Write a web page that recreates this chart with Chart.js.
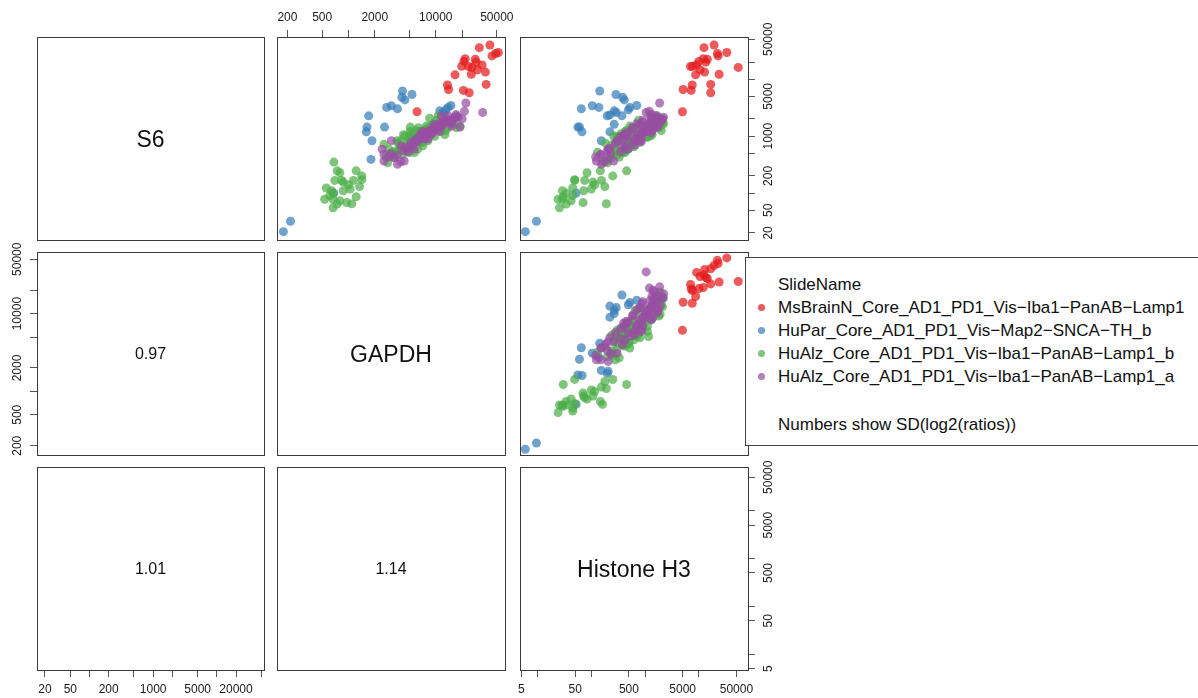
<!DOCTYPE html>
<html>
<head>
<meta charset="utf-8">
<title>pairs plot</title>
<script src="https://cdn.jsdelivr.net/npm/chart.js@4.4.1/dist/chart.umd.min.js"></script>
<style>
  html, body { margin: 0; padding: 0; background: #fff; }
  body { position: relative; width: 1198px; height: 698px; overflow: hidden;
         font-family: 'Liberation Sans', Arial, sans-serif; color: #111; }
  canvas { position: absolute; }
  .ptext { position: absolute; transform: translate(-50%, -50%); line-height: 1; white-space: nowrap; }
  #legend { position: absolute; left: 745px; top: 257px; width: 470px; height: 187px;
            border: 1px solid #444; background: #fff; z-index: 5; font-size: 17px; }
  #legend .row { position: absolute; left: 32px; white-space: nowrap; line-height: 23px; height: 23px; }
  #legend .dot { position: absolute; left: 12px; width: 7px; height: 7px; border-radius: 50%; }
</style>
</head>
<body>
<div id="legend"></div>
<script>
// ---- data ----
var varNames = ['S6', 'GAPDH', 'Histone H3'];
var sdValues = ['0.97', '1.01', '1.14'];   // lower panels: (GAPDH,S6), (H3,S6), (H3,GAPDH)

var groupNames = [
  'MsBrainN_Core_AD1_PD1_Vis\u2212Iba1\u2212PanAB\u2212Lamp1',
  'HuPar_Core_AD1_PD1_Vis\u2212Map2\u2212SNCA\u2212TH_b',
  'HuAlz_Core_AD1_PD1_Vis\u2212Iba1\u2212PanAB\u2212Lamp1_b',
  'HuAlz_Core_AD1_PD1_Vis\u2212Iba1\u2212PanAB\u2212Lamp1_a'
];
var groupColors = ['rgba(228,26,28,0.72)', 'rgba(55,126,184,0.72)', 'rgba(77,175,74,0.72)', 'rgba(152,78,163,0.72)'];
var drawOrder = [3, 2, 1, 0];

var redGAPDH = [41600, 31500, 48400, 52000, 44000, 21700, 28300, 21000, 33900, 19800, 23700, 25900, 37000, 16600, 25500, 13600, 14000, 20700, 24100, 37700, 6100, 30000, 29000];
var redS6    = [39800, 35700, 28200, 29400, 25600, 22900, 22300, 20500, 17800, 16800, 16700, 16100, 13300, 11900, 12200, 7900, 6600, 6350, 5780, 8100, 2680, 14600, 19900];
var redH3    = [19150, 12450, 22100, 33100, 22750, 12100, 14350, 10000, 9080, 7640, 7000, 54000, 12800, 8700, 23800, 7520, 5090, 7190, 16600, 16600, 4950, 10500, 13500];

var blueGAPDH = [180, 217, 680, 1600, 1630, 2590, 1703, 1810, 1860, 2740, 3100, 3640, 4160, 4090, 4430, 5340, 11100, 13870, 14900, 17350, 12000, 13000, 12500, 10000, 9000];
var blueS6    = [21, 32, 100, 1190, 1440, 1440, 2270, 390, 830, 3190, 3420, 3020, 6190, 4820, 4320, 5380, 2780, 3190, 3450, 2270, 2600, 2890, 2360, 1610, 1190];
var blueH3    = [5.9, 9.5, 52, 67, 56, 60, 197, 205, 153, 138, 104, 65, 143, 381, 410, 286, 266, 520, 698, 370, 290, 487, 221, 266, 221];

var greenGAPDH = [680, 1225, 743, 798, 698, 834, 872, 1140, 1425, 1340, 558, 638, 667, 872, 1043, 1225, 534, 667, 798, 953, 1090, 667, 743, 611, 1000, 1420,
                  5100, 6320, 8490, 10620, 11400, 4270, 5200, 6210, 7430, 8880, 11600, 13870, 3970, 4750, 5680, 6800, 8120, 2910, 3480, 4550,
                  5680, 7100, 2810, 3330, 4160, 4970, 6210, 9700, 12700, 17300, 18950, 15200, 3040, 2550, 7500, 9000, 5500, 4000, 3600, 5080,
                  4400, 5900, 7800, 9300, 10200, 12200, 3700, 4900, 6600, 8400, 5300, 6900, 3200, 4100, 7300, 8600, 10900, 13000, 5600, 4600,
                  6100, 9800, 11900, 3800, 5000, 7000, 8200, 2700, 6500, 15800];
var greenS6    = [350, 246, 246, 227, 167, 167, 156, 167, 172, 130, 123, 110, 99, 110, 118, 86, 78, 78, 73, 68, 65, 55, 64, 90, 140, 200,
                  1440, 1400, 2060, 2270, 1790, 1060, 1060, 925, 1060, 1220, 1220, 1400, 830, 725, 830, 775, 830, 590, 550, 550,
                  515, 675, 340, 420, 480, 515, 590, 995, 1060, 1400, 1500, 1840, 480, 720, 1290, 1560, 1150, 665, 830, 1200,
                  1000, 1250, 1500, 1650, 1900, 1700, 760, 900, 1100, 1150, 700, 950, 520, 610, 1250, 1000, 1350, 1250, 980, 650,
                  800, 1500, 1600, 560, 980, 780, 1400, 430, 1200, 1650];
var greenH3    = [161, 453, 147, 83, 49, 75, 107, 154, 49, 178, 45, 29, 34, 72, 100, 30, 24, 29, 42, 70, 190, 25.5, 34, 45, 115, 250,
                  700, 900, 1300, 1700, 1500, 500, 620, 640, 820, 1000, 1200, 1450, 380, 420, 560, 600, 760, 260, 300, 350,
                  420, 540, 200, 240, 310, 380, 480, 1100, 1350, 1800, 1900, 1600, 230, 280, 950, 1150, 750, 450, 520, 1156,
                  260, 1100, 520, 1800, 750, 2100, 180, 800, 360, 1300, 240, 1100, 130, 500, 450, 1250, 650, 2000, 330, 620,
                  300, 1900, 800, 420, 300, 800, 580, 330, 420, 2200];

var purpleGAPDH = [22100, 21300, 34400, 18950, 15200, 12700, 11600, 13870, 16600, 8880, 10620, 7770, 8120, 6800, 5200, 4550, 3970, 3100, 2430, 2550,
                   2550, 3040, 3330, 3640, 3970, 4350, 5680, 7100, 9700, 12130, 14500, 10000, 6000, 9000, 11000, 15000, 20000, 17000, 4800, 7000,
                   7400, 8300, 9400, 10400, 11200, 12500, 6400, 5900, 13500, 15600, 6900, 8900, 4300, 5400, 7800, 3600, 10800, 9600, 12000, 18000,
                   4900, 6200, 8000, 11500, 2900, 14200, 16300, 7600, 9200, 5700];
var purpleS6    = [3820, 2720, 2610, 1440, 1500, 1900, 2270, 2270, 2120, 1220, 1310, 1140, 890, 1060, 775, 630, 675, 830, 590, 480,
                   365, 490, 420, 320, 355, 365, 590, 925, 1610, 1720, 1840, 1470, 855, 1100, 1200, 1660, 2020, 2390, 530, 1200,
                   1150, 1250, 1400, 1500, 1650, 1750, 980, 870, 1900, 2000, 1050, 1300, 560, 700, 1100, 460, 1550, 1350, 1600, 2150,
                   610, 800, 1000, 1450, 430, 1750, 1950, 900, 1150, 760];
var purpleH3    = [1860, 1200, 1045, 1500, 1400, 1300, 1250, 1600, 1700, 1000, 1100, 850, 780, 700, 550, 420, 380, 300, 205, 150,
                   124, 230, 200, 154, 180, 260, 480, 700, 1150, 1400, 1500, 1000, 640, 900, 1050, 1250, 1400, 1350, 350, 900,
                   450, 1300, 580, 1700, 700, 1900, 350, 850, 900, 2100, 400, 1400, 200, 650, 480, 150, 1700, 600, 800, 2200,
                   220, 850, 450, 1700, 120, 900, 2100, 400, 1300, 280];

var s6Range = [15, 55000];
var gapdhRange = [152, 62000];
var h3Range = [4.7, 82000];

var s6Ticks = [20, 50, 100, 200, 500, 1000, 2000, 5000, 10000, 20000, 50000];
var s6BottomLabels = [20, 50, 200, 1000, 5000, 20000];
var s6RightLabels = [20, 50, 200, 1000, 5000, 50000];
var gapdhTicks = [200, 500, 1000, 2000, 5000, 10000, 20000, 50000];
var gapdhLabels = [200, 500, 2000, 10000, 50000];
var h3Ticks = [5, 10, 50, 100, 500, 1000, 5000, 10000, 50000];
var h3Labels = [5, 50, 500, 5000, 50000];

// ---- layout ----
var colLeft = [37, 277, 520], colWidth = [227, 228, 228];
var rowTop = [37, 252, 467], rowHeight = [203, 203, 203];
var M = 40;
var fontFamily = "'Liberation Sans', Arial, sans-serif";
var tickFont = {family: fontFamily, size: 12};

var values = [
  [redS6, blueS6, greenS6, purpleS6],
  [redGAPDH, blueGAPDH, greenGAPDH, purpleGAPDH],
  [redH3, blueH3, greenH3, purpleH3]
];
var ranges = [s6Range, gapdhRange, h3Range];
var ticks = [s6Ticks, gapdhTicks, h3Ticks];
var labelSets = [
  {bottom: s6BottomLabels, right: s6RightLabels},
  {top: gapdhLabels, left: gapdhLabels},
  {bottom: h3Labels, right: h3Labels}
];

var mctx = document.createElement('canvas').getContext('2d');
mctx.font = '12px ' + fontFamily;
var widest = mctx.measureText('50000').width;

var boxPlugin = {
  id: 'panelBox',
  afterDraw: function (chart) {
    var a = chart.chartArea, ctx = chart.ctx;
    ctx.save();
    ctx.strokeStyle = '#3a3a3a';
    ctx.lineWidth = 1;
    ctx.strokeRect(Math.round(a.left) + 0.5, Math.round(a.top) + 0.5,
                   Math.round(a.right - a.left), Math.round(a.bottom - a.top));
    ctx.restore();
  }
};

function logAxis(axis, k, pos) {
  var lbls = pos ? labelSets[k][pos] : [];
  var tv = ticks[k];
  var cfg = {
    type: 'logarithmic',
    min: ranges[k][0],
    max: ranges[k][1],
    bounds: 'data',
    display: !!pos,
    position: pos || (axis === 'x' ? 'bottom' : 'left'),
    afterBuildTicks: function (s) { s.ticks = tv.map(function (v) { return {value: v}; }); },
    afterFit: function (s) {
      if (!pos) return;
      if (axis === 'x') s.height = M; else s.width = M;
    },
    border: {display: false},
    grid: {display: true, drawOnChartArea: false, drawTicks: true, tickLength: 7, color: '#555', lineWidth: 1},
    ticks: {
      autoSkip: false, color: '#1a1a1a', font: tickFont, padding: 5,
      minRotation: 0, maxRotation: 0,
      callback: function (v) { return lbls.indexOf(v) >= 0 ? String(v) : ''; }
    }
  };
  if (axis === 'y') {
    cfg.ticks.minRotation = 90;
    cfg.ticks.maxRotation = 90;
    cfg.ticks.crossAlign = 'center';
    cfg.ticks.padding = (pos === 'left' ? 12 : 14) - widest / 2;
  }
  return cfg;
}

function addText(txt, x, y, size) {
  var d = document.createElement('div');
  d.className = 'ptext';
  d.style.left = x + 'px';
  d.style.top = y + 'px';
  d.style.fontSize = size + 'px';
  d.textContent = txt;
  document.body.appendChild(d);
}

function makePanel(i, j) {
  var l = colLeft[j], t = rowTop[i], w = colWidth[j], h = rowHeight[i];
  var xPos = null, yPos = null;
  if (i === 0 && j % 2 === 1) xPos = 'top';
  if (i === 2 && j % 2 === 0) xPos = 'bottom';
  if (j === 0 && i % 2 === 1) yPos = 'left';
  if (j === 2 && i % 2 === 0) yPos = 'right';

  var cv = document.createElement('canvas');
  cv.width = w + 2 * M;
  cv.height = h + 2 * M;
  cv.style.left = (l - M) + 'px';
  cv.style.top = (t - M) + 'px';
  document.body.insertBefore(cv, document.getElementById('legend'));

  var datasets = [];
  if (i < j) {
    datasets = groupNames.map(function (name, g) {
      var xs = values[j][g], ys = values[i][g];
      return {
        label: name,
        data: xs.map(function (x, n) { return {x: x, y: ys[n]}; }),
        backgroundColor: groupColors[g],
        borderColor: 'rgba(0,0,0,0)',
        pointRadius: 4.5,
        pointBorderWidth: 0,
        order: drawOrder[g]
      };
    });
  }

  new Chart(cv.getContext('2d'), {
    type: 'scatter',
    data: {datasets: datasets},
    options: {
      responsive: false,
      animation: false,
      devicePixelRatio: 1,
      events: [],
      layout: {padding: {
        left: yPos === 'left' ? 0 : M,
        right: yPos === 'right' ? 0 : M,
        top: xPos === 'top' ? 0 : M,
        bottom: xPos === 'bottom' ? 0 : M
      }},
      plugins: {legend: {display: false}, tooltip: {enabled: false}},
      scales: {
        x: logAxis('x', j, xPos),
        y: logAxis('y', i, yPos)
      }
    },
    plugins: [boxPlugin]
  });

  if (i === j) addText(varNames[i], l + w / 2, t + h / 2, 23);
  if (i > j) addText(sdValues[i + j - 1], l + w / 2, t + h / 2, 16);
}

for (var i = 0; i < 3; i++) {
  for (var j = 0; j < 3; j++) {
    makePanel(i, j);
  }
}

// ---- legend ----
var legend = document.getElementById('legend');
function legendRow(txt, cy) {
  var r = document.createElement('div');
  r.className = 'row';
  r.style.top = (cy - 11.5) + 'px';
  r.textContent = txt;
  legend.appendChild(r);
}
legendRow('SlideName', 26);
groupNames.forEach(function (name, g) {
  var cy = 49 + g * 23.3;
  legendRow(name, cy);
  var d = document.createElement('span');
  d.className = 'dot';
  d.style.top = (cy - 3.5) + 'px';
  d.style.background = groupColors[g];
  legend.appendChild(d);
});
legendRow('Numbers show SD(log2(ratios))', 166);
</script>
</body>
</html>
